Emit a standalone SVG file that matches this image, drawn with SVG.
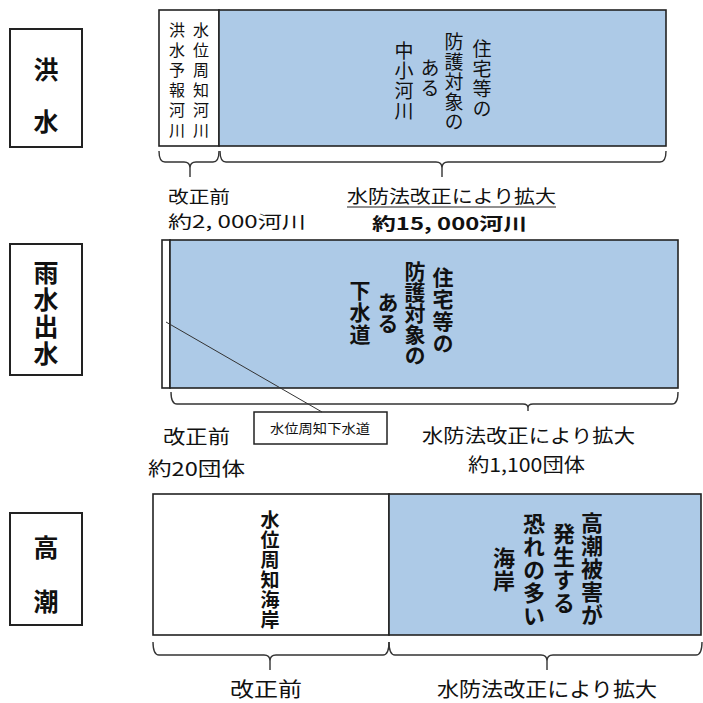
<svg xmlns="http://www.w3.org/2000/svg" width="703" height="703" viewBox="0 0 703 703">
<style>
text{font-family:"Noto Sans CJK JP","Noto Sans",sans-serif;fill:#111}
.vt{writing-mode:vertical-rl;text-orientation:upright}
.lab{font-size:25px;font-weight:bold}
.box{fill:#fff;stroke:#222;stroke-width:2}
.blue{fill:#adcae7;stroke:#222;stroke-width:1.6}
.white{fill:#fff;stroke:#222;stroke-width:1.6}
.brace{fill:none;stroke:#333;stroke-width:1.4}
</style>
<rect width="703" height="703" fill="#fff"/>

<g id="label-kouzui">
<rect class="box" x="10" y="29" width="72" height="118"/>
<text class="lab vt" x="46" y="57" letter-spacing="27">洪水</text>
</g>

<g id="label-usui">
<rect class="box" x="10" y="244" width="72" height="131"/>
<text class="lab vt" x="46" y="260" letter-spacing="2">雨水出水</text>
</g>

<g id="label-takashio">
<rect class="box" x="10" y="513" width="72" height="112"/>
<text class="lab vt" x="46" y="535" letter-spacing="29">高潮</text>
</g>

<g id="kouzui-before">
<rect class="white" x="159" y="10" width="60" height="136"/>
<text class="vt" font-size="16" x="201" y="22" letter-spacing="4">水位周知河川</text>
<text class="vt" font-size="16" x="177" y="22" letter-spacing="4">洪水予報河川</text>
</g>

<g id="kouzui-after">
<rect class="blue" x="219" y="10" width="447" height="136"/>
<text class="vt" font-size="19" x="482" y="39" letter-spacing="1">住宅等の</text>
<text class="vt" font-size="19" x="454" y="32" letter-spacing="1">防護対象の</text>
<text class="vt" font-size="19" x="430" y="58" letter-spacing="1">ある</text>
<text class="vt" font-size="19" x="404" y="41" letter-spacing="1">中小河川</text>
</g>

<g id="kouzui-captions">
<text font-size="17" x="168" y="203" textLength="62" lengthAdjust="spacingAndGlyphs">改正前</text>
<text font-size="17" x="168" y="228" textLength="138" lengthAdjust="spacingAndGlyphs">約2, 000河川</text>
<text font-size="18" x="347" y="203" textLength="209" lengthAdjust="spacingAndGlyphs">水防法改正により拡大</text>
<line x1="347" y1="207" x2="556" y2="207" stroke="#222" stroke-width="1.2"/>
<text font-size="17" font-weight="bold" x="372" y="230" textLength="155" lengthAdjust="spacingAndGlyphs">約15, 000河川</text>
</g>

<g id="usui-before">
<rect class="white" x="162" y="240" width="8" height="148"/>
</g>

<g id="usui-after">
<rect class="blue" x="170" y="240" width="508" height="148"/>
<text class="vt" font-size="21" font-weight="bold" x="443" y="267" letter-spacing="1">住宅等の</text>
<text class="vt" font-size="21" font-weight="bold" x="415" y="261">防護対象の</text>
<text class="vt" font-size="21" font-weight="bold" x="388" y="292">ある</text>
<text class="vt" font-size="21" font-weight="bold" x="360" y="280" letter-spacing="1">下水道</text>
</g>

<g id="usui-callout">
<rect x="254" y="412" width="133" height="32" fill="#fff" stroke="#222" stroke-width="1.5"/>
<text font-size="13" x="270" y="433" textLength="100" lengthAdjust="spacingAndGlyphs">水位周知下水道</text>
</g>

<g id="usui-captions">
<text font-size="19" x="163" y="444" textLength="67" lengthAdjust="spacingAndGlyphs">改正前</text>
<text font-size="19" x="148" y="476" textLength="97" lengthAdjust="spacingAndGlyphs">約20団体</text>
<text font-size="19" x="422" y="443" textLength="213" lengthAdjust="spacingAndGlyphs">水防法改正により拡大</text>
<text font-size="19" x="468" y="472" textLength="117" lengthAdjust="spacingAndGlyphs">約1,100団体</text>
</g>

<g id="takashio-before">
<rect class="white" x="153" y="494" width="236" height="141" stroke-width="2"/>
<text class="vt" font-size="19" font-weight="bold" x="270" y="510" letter-spacing="1">水位周知海岸</text>
</g>

<g id="takashio-after">
<rect class="blue" x="389" y="494" width="312" height="141" stroke-width="2"/>
<text class="vt" font-size="22" font-weight="bold" x="592" y="512" letter-spacing="1">高潮被害が</text>
<text class="vt" font-size="22" font-weight="bold" x="564" y="523" letter-spacing="1">発生する</text>
<text class="vt" font-size="22" font-weight="bold" x="534" y="513" letter-spacing="1">恐れの多い</text>
<text class="vt" font-size="22" font-weight="bold" x="504" y="547" letter-spacing="1">海岸</text>
</g>

<g id="takashio-captions">
<text font-size="20" x="230" y="697" textLength="72" lengthAdjust="spacingAndGlyphs">改正前</text>
<text font-size="20" x="437" y="697" textLength="220" lengthAdjust="spacingAndGlyphs">水防法改正により拡大</text>
</g>

<g id="connectors">
<path class="brace" d="M159,151 Q159,162 165,162 H184 Q190,162 190,168 V177 M190,168 Q190,162 196,162 H213 Q219,162 219,151"/>
<path class="brace" d="M220,151 Q220,162 226,162 H436 Q442,162 442,168 V177 M442,168 Q442,162 448,162 H660 Q666,162 666,151"/>
<path class="brace" stroke="#666" d="M171,392 Q171,404 177,404 H523 Q528,404 528,408 V411 M528,408 Q528,404 533,404 H672 Q678,404 678,392"/>
<path class="brace" d="M153,642 Q153,655 159,655 H264 Q270,655 270,661 V670 M270,661 Q270,655 276,655 H383 Q389,655 389,642"/>
<path class="brace" d="M389,642 Q389,655 395,655 H541 Q547,655 547,661 V670 M547,661 Q547,655 553,655 H696 Q702,655 702,642"/>
<line x1="166" y1="322" x2="322" y2="412" stroke="#333" stroke-width="1"/>
</g>
</svg>
